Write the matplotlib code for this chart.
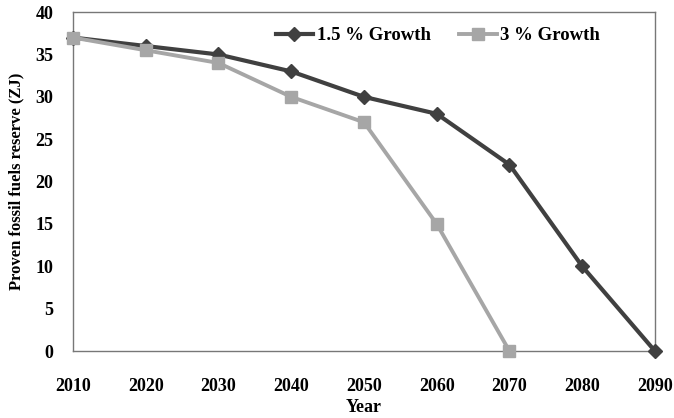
import matplotlib
matplotlib.use("Agg")
import matplotlib.pyplot as plt

years = [2010, 2020, 2030, 2040, 2050, 2060, 2070, 2080, 2090]
growth_15 = [37, 36, 35, 33, 30, 28, 22, 10, 0]
years_3 = [2010, 2020, 2030, 2040, 2050, 2060, 2070]
growth_3 = [37, 35.5, 34, 30, 27, 15, 0]
yticks = [0, 5, 10, 15, 20, 25, 30, 35, 40]

plt.rcParams['font.family'] = ['Liberation Serif', 'DejaVu Serif']
plt.rcParams['font.weight'] = 'bold'

fig = plt.figure(figsize=(6.74, 4.18), dpi=100)
ax = fig.add_axes([0.1083, 0.160, 0.8635, 0.811])

ax.plot(years, growth_15, color='#404040', lw=3.0, marker='D', markersize=7,
        label='1.5 % Growth', zorder=3, clip_on=False)
ax.plot(years_3, growth_3, color='#a6a6a6', lw=2.8, marker='s', markersize=9,
        label='3 % Growth', zorder=3, clip_on=False)

ax.set_xlim(2010, 2090)
ax.set_ylim(0, 40)
ax.set_xticks(years)
ax.set_yticks(yticks)
ax.tick_params(axis='both', length=0, labelsize=13)
ax.tick_params(axis='x', pad=19)
ax.tick_params(axis='y', pad=14)
for lab in ax.get_xticklabels() + ax.get_yticklabels():
    lab.set_fontweight('bold')

for s in ax.spines.values():
    s.set_color('#777777')
    s.set_linewidth(1.0)

ax.set_xlabel('Year', fontsize=13, fontweight='bold', labelpad=3)
ax.set_ylabel('Proven fossil fuels reserve (ZJ)', fontsize=12, fontweight='bold', labelpad=8)

leg = ax.legend(loc='upper center', bbox_to_anchor=(0.627, 1.005), ncol=2, frameon=False,
                prop={'size': 13.5, 'weight': 'bold'}, handlelength=2.0, columnspacing=1.5,
                handletextpad=0.2)

fig.savefig('out.png', dpi=100)
